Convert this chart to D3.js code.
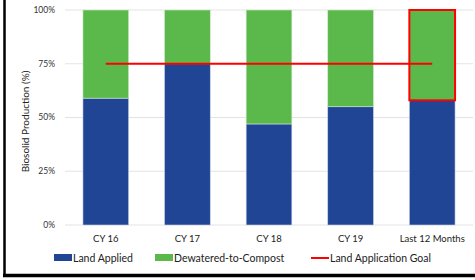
<!DOCTYPE html>
<meta charset="utf-8">
<style>
body { margin: 0; background: #fff; }
svg { font-family: Lato, "Open Sans", sans-serif; }
.grid line { stroke: #e3e3e3; }
.tick-label { font-size: 8.5px; fill: #333; }
.cat-label { font-size: 9.5px; fill: #222; }
.legend text { font-size: 10.5px; fill: #222; }
</style>
<svg width="475" height="280"></svg>
<script src="https://d3js.org/d3.v7.min.js"></script>
<script>

var categories = ["CY 16", "CY 17", "CY 18", "CY 19", "Last 12 Months"];
var landApplied = [59, 75, 47, 55, 58];
var compost = [41, 25, 53, 45, 42];
var goal = 75;
var yTicks = [0, 25, 50, 75, 100];

var svg = d3.select("svg"),
    margin = {top: 10, right: 2, bottom: 55, left: 65},
    width = +svg.attr("width") - margin.left - margin.right,
    height = +svg.attr("height") - margin.top - margin.bottom;

var x = d3.scaleBand().domain(categories).range([0, width]).paddingInner(0.44).paddingOuter(0.22),
    y = d3.scaleLinear().domain([0, 100]).range([height, 0]);

var g = svg.append("g")
    .attr("transform", "translate(" + margin.left + "," + margin.top + ")");

// gridlines
g.append("g").attr("class", "grid")
  .selectAll("line").data(yTicks).enter().append("line")
    .attr("x1", 0).attr("x2", width)
    .attr("y1", function(d) { return y(d); })
    .attr("y2", function(d) { return y(d); });

g.selectAll(".tick-label").data(yTicks).enter().append("text")
    .attr("class", "tick-label")
    .attr("x", -10)
    .attr("y", function(d) { return y(d); })
    .attr("dy", "0.35em")
    .attr("text-anchor", "end")
    .text(function(d) { return d + "%"; });

g.append("text")
    .attr("transform", "translate(-36," + (height / 2 + 4) + ") rotate(-90)")
    .attr("text-anchor", "middle")
    .style("font-size", "10px")
    .style("fill", "#222")
    .text("Biosolid Production (%)");

// stacked bars
var rows = categories.map(function(c, i) { return {cat: c, land: landApplied[i], comp: compost[i]}; });

g.selectAll(".bar-land").data(rows).enter().append("rect")
    .attr("class", "bar-land")
    .attr("x", function(d) { return x(d.cat); })
    .attr("y", function(d) { return y(d.land); })
    .attr("width", x.bandwidth())
    .attr("height", function(d) { return height - y(d.land); })
    .attr("fill", "#1f4594")
    .attr("stroke", "#c9d3e8").attr("stroke-width", 0.6);

g.selectAll(".bar-comp").data(rows).enter().append("rect")
    .attr("class", "bar-comp")
    .attr("x", function(d) { return x(d.cat); })
    .attr("y", function(d) { return y(d.land + d.comp); })
    .attr("width", x.bandwidth())
    .attr("height", function(d) { return y(d.land) - y(d.land + d.comp); })
    .attr("fill", "#5bb84a")
    .attr("stroke", "#cfe9c8").attr("stroke-width", 0.6);

// highlight last period
var last = rows[rows.length - 1];
g.append("rect")
    .attr("x", x(last.cat))
    .attr("y", y(100))
    .attr("width", x.bandwidth())
    .attr("height", y(last.land) - y(100))
    .attr("fill", "none")
    .attr("stroke", "#ff0000")
    .attr("stroke-width", 2);

// goal line
g.append("line")
    .attr("x1", x(categories[0]) + x.bandwidth() / 2)
    .attr("x2", x(categories[categories.length - 1]) + x.bandwidth() / 2)
    .attr("y1", y(goal)).attr("y2", y(goal))
    .attr("stroke", "#ff0000")
    .attr("stroke-width", 2);

g.selectAll(".cat-label").data(categories).enter().append("text")
    .attr("class", "cat-label")
    .attr("x", function(d) { return x(d) + x.bandwidth() / 2; })
    .attr("y", height + 17)
    .attr("text-anchor", "middle")
    .text(function(d) { return d; });

// legend
var legend = svg.append("g").attr("class", "legend");
var items = [
  {label: "Land Applied", x: 54, color: "#1f4594", type: "box"},
  {label: "Dewatered-to-Compost", x: 155, color: "#5bb84a", type: "box"},
  {label: "Land Application Goal", x: 311, color: "#ff0000", type: "line"}
];
items.forEach(function(it) {
  if (it.type === "box") {
    legend.append("rect").attr("x", it.x).attr("y", 254).attr("width", 18).attr("height", 7).attr("fill", it.color);
  } else {
    legend.append("line").attr("x1", it.x).attr("x2", it.x + 18).attr("y1", 258).attr("y2", 258)
      .attr("stroke", it.color).attr("stroke-width", 2);
  }
  legend.append("text").attr("x", it.x + 19).attr("y", 261.5).text(it.label);
});

// frame
svg.append("line").attr("x1", 4.5).attr("x2", 4.5).attr("y1", 0).attr("y2", 277).attr("stroke", "#000").attr("stroke-width", 2.5);
svg.append("line").attr("x1", 3).attr("x2", 475).attr("y1", 275.5).attr("y2", 275.5).attr("stroke", "#000").attr("stroke-width", 3.5);

</script>
